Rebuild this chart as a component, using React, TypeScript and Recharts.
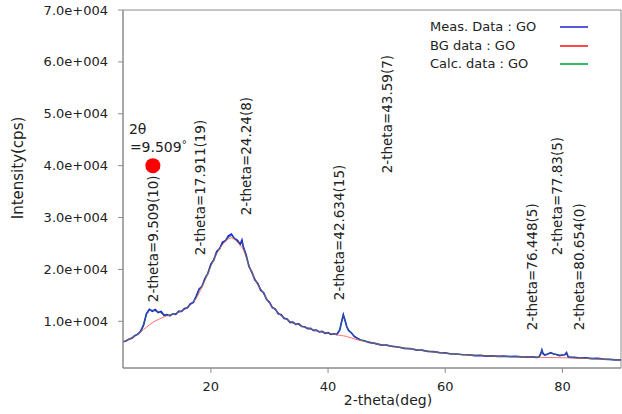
import React from 'react';
import { LineChart, Line, XAxis, YAxis, ReferenceDot, ReferenceArea, Legend, Label } from 'recharts';

const FONT = '"DejaVu Sans", sans-serif';
const AXIS = '#8c8c8c';
const TEXT = '#222222';

const xs = [
  5.0, 5.5, 6.0, 6.5, 7.0, 7.5, 8.0, 8.5, 9.0, 9.5,
  10.0, 10.5, 11.0, 11.5, 12.0, 12.5, 13.0, 13.5, 14.0, 14.5,
  15.0, 15.5, 16.0, 16.5, 17.0, 17.5, 18.0, 18.5, 19.0, 19.5,
  20.0, 20.5, 21.0, 21.5, 22.0, 22.5, 23.0, 23.5, 24.0, 24.5,
  25.0, 25.3, 25.5, 26.0, 26.5, 27.0, 27.5, 28.0, 28.5, 29.0,
  29.5, 30.0, 30.5, 31.0, 31.5, 32.0, 32.5, 33.0, 33.5, 34.0,
  34.5, 35.0, 35.5, 36.0, 36.5, 37.0, 37.5, 38.0, 38.5, 39.0,
  39.5, 40.0, 40.5, 41.0, 41.5, 42.0, 42.3, 42.6, 42.9, 43.2,
  43.5, 44.0, 44.5, 45.0, 45.5, 46.0, 47, 48, 49, 50,
  51, 52, 53, 54, 55, 56, 57, 58, 59, 60,
  61, 62, 63, 64, 65, 66, 67, 68, 69, 70,
  71, 72, 73, 74, 75, 75.5, 76.0, 76.3, 76.5, 76.7,
  77.0, 77.5, 78.0, 78.5, 79.0, 79.5, 80.0, 80.4, 80.7, 81.0,
  82, 83, 84, 85, 86, 87, 88, 89, 90,
];

const calcData = [
  6000, 6250, 6500, 6800, 7150, 7550, 8000, 9300, 11300, 12100,
  12150, 12000, 11850, 11600, 11300, 11150, 11200, 11350, 11500, 11750,
  12000, 12300, 12700, 13200, 13800, 14600, 16100, 16900, 18100, 19400,
  20800, 22000, 23200, 24200, 25000, 25700, 26200, 26500, 26100, 25400,
  25100, 25400, 24600, 22600, 20800, 19300, 18200, 17100, 16200, 15300,
  14400, 13500, 12800, 12200, 11600, 11100, 10700, 10300, 9950, 9700,
  9500, 9350, 9100, 8850, 8700, 8550, 8350, 8200, 8050, 7950,
  7800, 7700, 7600, 7500, 7500, 8400, 9800, 11200, 10200, 8900,
  8300, 7700, 7100, 6700, 6450, 6250, 6000, 5700, 5500, 5350,
  5180, 5000, 4850, 4700, 4550, 4400, 4250, 4100, 3980, 3850,
  3750, 3650, 3580, 3500, 3450, 3400, 3350, 3300, 3270, 3250,
  3220, 3200, 3160, 3130, 3100, 3080, 3100, 3800, 4400, 3800,
  3450, 3750, 3900, 3750, 3550, 3450, 3450, 3600, 3900, 3150,
  3000, 2950, 2900, 2850, 2800, 2720, 2650, 2600, 2550,
];

const bgData = [
  6000, 6250, 6500, 6800, 7150, 7550, 7950, 8400, 8850, 9300,
  9700, 10050, 10350, 10600, 10850, 11050, 11200, 11350, 11500, 11750,
  12000, 12300, 12700, 13200, 13750, 14450, 15500, 16600, 17900, 19250,
  20650, 21900, 23050, 24000, 24800, 25450, 25900, 26100, 25850, 25300,
  24600, 24250, 23900, 22500, 20750, 19300, 18200, 17100, 16200, 15300,
  14400, 13500, 12800, 12200, 11600, 11100, 10700, 10300, 9950, 9700,
  9500, 9350, 9100, 8850, 8700, 8550, 8350, 8200, 8050, 7950,
  7800, 7700, 7600, 7500, 7400, 7300, 7250, 7200, 7150, 7050,
  6950, 6800, 6600, 6450, 6300, 6200, 6000, 5700, 5500, 5350,
  5180, 5000, 4850, 4700, 4550, 4400, 4250, 4100, 3980, 3850,
  3750, 3650, 3580, 3500, 3450, 3400, 3350, 3300, 3270, 3250,
  3220, 3200, 3160, 3130, 3100, 3080, 3060, 3050, 3050, 3040,
  3030, 3020, 3010, 3000, 2990, 2980, 2970, 2960, 2960, 2950,
  2920, 2880, 2840, 2800, 2760, 2700, 2640, 2590, 2540,
];

const measData = [
  6050, 6200, 6550, 6750, 7200, 7500, 8050, 9250, 11450, 12300,
  11950, 12250, 11700, 11900, 11150, 11300, 11050, 11450, 11350, 11900,
  11900, 12450, 12600, 13350, 13650, 14800, 16250, 16750, 18300, 19250,
  21000, 21800, 23450, 24000, 25250, 25500, 26450, 26800, 25950, 25650,
  24850, 25650, 24450, 22850, 20550, 19500, 18000, 17300, 16000, 15500,
  14250, 13650, 12650, 12350, 11450, 11250, 10550, 10450, 9800, 9850,
  9400, 9500, 9000, 8950, 8600, 8650, 8250, 8300, 7950, 8050,
  7700, 7800, 7500, 7600, 7450, 8350, 9850, 11250, 10150, 8950,
  8250, 7750, 7050, 6750, 6400, 6300, 5950, 5750, 5450, 5400,
  5150, 5050, 4800, 4750, 4500, 4450, 4200, 4150, 3950, 3900,
  3700, 3700, 3550, 3550, 3400, 3450, 3300, 3350, 3250, 3300,
  3200, 3250, 3150, 3100, 3150, 3050, 3080, 3750, 4450, 3750,
  3500, 3700, 3950, 3700, 3600, 3400, 3500, 3550, 3950, 3100,
  3050, 2900, 2950, 2800, 2850, 2700, 2680, 2580, 2560,
];

const xTicks = [20, 40, 60, 80];
const yTicks = [10000, 20000, 30000, 40000, 50000, 60000, 70000];

const legendItems = [
  { name: 'Meas. Data : GO', color: '#5a5ad8' },
  { name: 'BG data : GO', color: '#ff4a4a' },
  { name: 'Calc. data : GO', color: '#2ec066' },
];

const peakLabels = [
  { text: '2-theta=9.509(10)', x: 10.11, y: 13680 },
  { text: '2-theta=17.911(19)', x: 18.12, y: 22740 },
  { text: '2-theta=24.24(8)', x: 26.07, y: 30440 },
  { text: '2-theta=42.634(15)', x: 41.85, y: 14070 },
  { text: '2-theta=43.59(7)', x: 50.14, y: 38540 },
  { text: '2-theta=76.448(5)', x: 74.8, y: 8290 },
  { text: '2-theta=77.83(5)', x: 79.1, y: 22740 },
  { text: '2-theta=80.654(0)', x: 82.85, y: 8290 },
];

const marker = { x: 10.1, y: 40000, line1: '2θ', line2: '=9.509' };

const table = xs.map((x, i) => ({ x, meas: measData[i], bg: bgData[i], calc: calcData[i] }));

const fmtY = (v: number) => `${(v / 10000).toFixed(1)}e+004`;

const peakShape = (text: string) => (p: any) => {
  const bx = p.cx + 5;
  return (
    <text
      x={bx}
      y={p.cy}
      transform={`rotate(-90 ${bx} ${p.cy})`}
      fontSize={13.5}
      fill={TEXT}
      fontFamily={FONT}
    >
      {text}
    </text>
  );
};

const markerTextShape = (p: any) => (
  <g fontFamily={FONT} fill={TEXT} fontSize={14}>
    <text x={p.cx - 24} y={p.cy - 32}>{marker.line1}</text>
    <text x={p.cx - 23} y={p.cy - 14}>
      {marker.line2}
      <tspan fontSize={10} dy={-4}>°</tspan>
    </text>
  </g>
);

const LegendContent = () => (
  <div style={{ fontFamily: FONT, fontSize: 13, color: TEXT }}>
    {legendItems.map((it) => (
      <div key={it.name} style={{ display: 'flex', alignItems: 'center', height: 18.5 }}>
        <div style={{ width: 130, whiteSpace: 'nowrap', lineHeight: '18.5px' }}>{it.name}</div>
        <div style={{ width: 28, height: 2, background: it.color }} />
      </div>
    ))}
  </div>
);

export default function App() {
  return (
    <div style={{ position: 'absolute', left: 0, top: 0 }}>
      <LineChart
        width={622}
        height={414}
        data={table}
        margin={{ top: 10, right: 1, bottom: 0, left: 0 }}
        style={{ fontFamily: FONT }}
      >
        <ReferenceArea
          x1={5}
          x2={90}
          y1={1000}
          y2={70000}
          fill="none"
          fillOpacity={0}
          stroke={AXIS}
          strokeWidth={1}
          ifOverflow="visible"
        />
        <XAxis
          dataKey="x"
          type="number"
          domain={[5, 90]}
          ticks={xTicks}
          allowDataOverflow
          height={46}
          stroke={AXIS}
          tickSize={5}
          tickMargin={9}
          tick={{ fontSize: 13, fill: TEXT, fontFamily: FONT }}
          tickLine={{ stroke: AXIS }}
        >
          <Label
            content={(props: any) => {
              const vb = props.viewBox || { x: 123, y: 368, width: 498 };
              return (
                <text x={vb.x + vb.width / 2 + 16} y={vb.y + 37} textAnchor="middle" fontSize={14} fill={TEXT} fontFamily={FONT}>
                  2-theta(deg)
                </text>
              );
            }}
          />
        </XAxis>
        <YAxis
          type="number"
          domain={[1000, 70000]}
          ticks={yTicks}
          allowDataOverflow
          width={123}
          stroke={AXIS}
          tickSize={5}
          tickMargin={10}
          tickFormatter={fmtY}
          tick={{ fontSize: 13, fill: TEXT, fontFamily: FONT }}
          tickLine={{ stroke: AXIS }}
        >
          <Label
            content={(props: any) => {
              const vb = props.viewBox || { x: 0, y: 10, width: 123, height: 358 };
              const cy = vb.y + vb.height / 2 - 21;
              return (
                <text x={23} y={cy} transform={`rotate(-90 23 ${cy})`} textAnchor="middle" fontSize={15} fill={TEXT} fontFamily={FONT}>
                  Intensity(cps)
                </text>
              );
            }}
          />
        </YAxis>
        <Legend
          layout="vertical"
          align="center"
          verticalAlign="middle"
          content={LegendContent}
          wrapperStyle={{ left: 430, top: 18, width: 170, height: 56 }}
        />
        <Line type="linear" dataKey="meas" stroke="#1a1aff" strokeWidth={1.7} dot={false} isAnimationActive={false} />
        <Line type="linear" dataKey="bg" stroke="#ff6a6a" strokeWidth={1} dot={false} isAnimationActive={false} />
        <Line type="linear" dataKey="calc" stroke="#2a6e4e" strokeWidth={0.9} dot={false} isAnimationActive={false} />
        {peakLabels.map((pl) => (
          <ReferenceDot key={pl.text} x={pl.x} y={pl.y} r={0} ifOverflow="visible" shape={peakShape(pl.text)} />
        ))}
        <ReferenceDot x={marker.x} y={marker.y} r={7.5} fill="#ff0000" stroke="none" ifOverflow="visible" />
        <ReferenceDot x={marker.x} y={marker.y} r={0} ifOverflow="visible" shape={markerTextShape} />
      </LineChart>
    </div>
  );
}
